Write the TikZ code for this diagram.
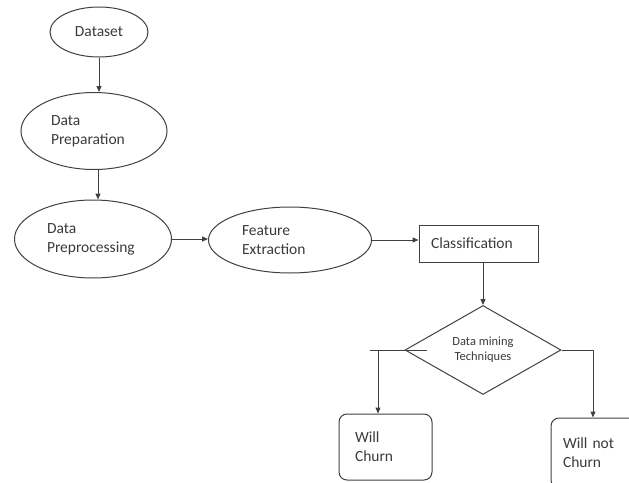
\documentclass[tikz,border=0pt]{standalone}
\usepackage{fontspec}
\setmainfont{Carlito}
\usetikzlibrary{shapes.geometric,arrows.meta,calc}
\definecolor{ln}{HTML}{404040}
\definecolor{tx}{HTML}{3A3A3A}
\begin{document}
\begin{tikzpicture}[x=1pt,y=-1pt,
  every node/.style={text=tx,font=\fontsize{15.5}{19}\selectfont},
  ell/.style={draw=ln,line width=1pt,ellipse,inner sep=0pt,align=left},
  rectbox/.style={draw=ln,line width=1pt,rectangle,inner sep=0pt,align=left},
  roundbox/.style={draw=ln,line width=1pt,rectangle,rounded corners=8pt,inner sep=0pt,align=left},
  decision/.style={draw=ln,line width=1pt,diamond,aspect=2,inner sep=0pt,align=center,
    font=\fontsize{12.5}{15}\selectfont},
  conn/.style={draw=ln,line width=1pt},
  arr/.style={conn,-{Triangle[length=6pt,width=5pt]}}]
\useasboundingbox (0,0) rectangle (629,482);
\clip (0,0) rectangle (629,482);
\node[ell,minimum width=98pt,minimum height=50pt] (ds) at (99,32) {Dataset};
\node[ell,minimum width=146pt,minimum height=77pt,text width=86pt] (prep) at (94,131) {Data\\Preparation};
\node[ell,minimum width=157pt,minimum height=78pt,text width=92pt] (pre) at (93,239) {Data\\Preprocessing};
\node[ell,minimum width=163pt,minimum height=66pt,text width=96pt] (feat) at (290,240) {Feature\\Extraction};
\node[rectbox,minimum width=119pt,minimum height=37pt,text width=95pt] (cls) at (478.5,243.5) {Classification};
\node[decision,minimum width=156pt,minimum height=89pt] (dia) at (483,350) {Data mining\\Techniques};
\node[roundbox,minimum width=93pt,minimum height=66pt,text width=61pt] (will) at (385.5,447) {Will\\Churn};
\node[roundbox,minimum width=94pt,minimum height=70pt,text width=70pt] (wnot) at (598,453) {Will not\\Churn};
\draw[arr] (ds.south) -- (ds.south |- prep.north);
\draw[arr] ([xshift=4pt]prep.south) -- ([xshift=4pt]prep.south |- pre.north);
\draw[arr] (pre.east) -- (pre.east -| feat.west);
\draw[arr] (feat.east) -- (feat.east -| cls.west);
\draw[arr] (dia.north |- cls.south) -- (dia.north);
\coordinate (lstub) at (427,350);
\coordinate (lend) at (370,350);
\coordinate (lj) at (378,350);
\coordinate (rj) at (593,350);
\draw[conn] (lstub) -- (lend);
\draw[arr] (lj) -- (lj |- will.north);
\draw[arr] (dia.east) -- (rj) -- (rj |- wnot.north);
\end{tikzpicture}
\end{document}
